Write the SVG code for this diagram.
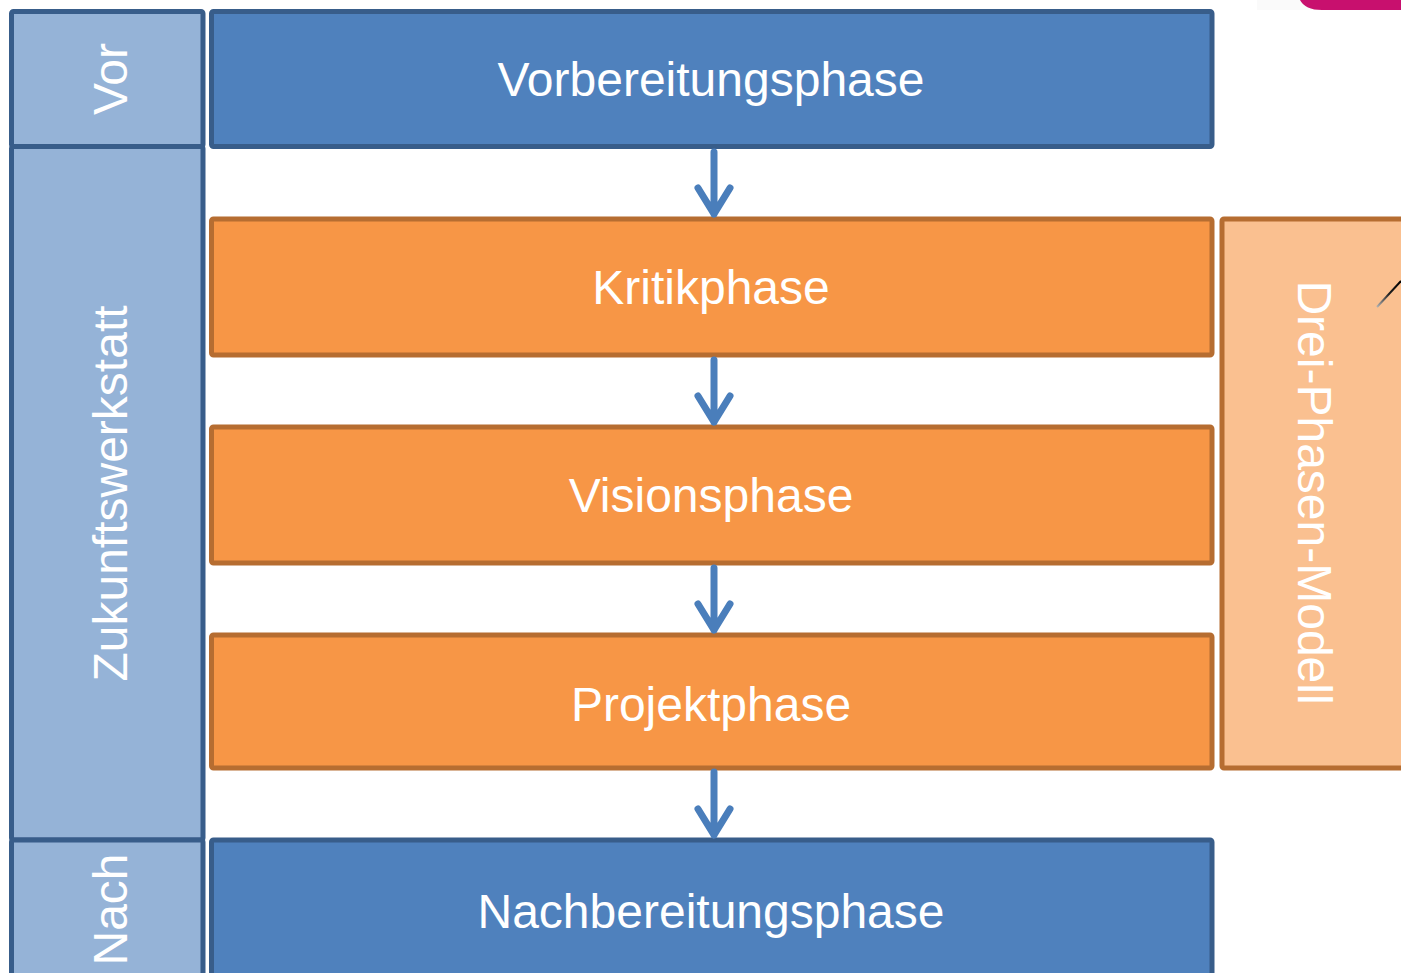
<svg xmlns="http://www.w3.org/2000/svg" width="1401" height="973" viewBox="0 0 1401 973">
<style>
.side{fill:#95B3D7;stroke:#385D8A;stroke-width:5}
.blue{fill:#4F81BD;stroke:#385D8A;stroke-width:5}
.orange{fill:#F79646;stroke:#B66D31;stroke-width:5}
.lorange{fill:#FAC090;stroke:#B66D31;stroke-width:5}
text{font-family:"Liberation Sans",Arial,sans-serif;font-size:48px;fill:#FFFFFF;text-anchor:middle}
.arr{fill:none;stroke:#4A7EBB;stroke-width:7;stroke-linecap:round;stroke-linejoin:round}
</style>
<defs>
<linearGradient id="lg" x1="0" y1="1" x2="1" y2="0">
<stop offset="0" stop-color="#B0B0B0"/>
<stop offset="0.5" stop-color="#202020"/>
<stop offset="1" stop-color="#000000"/>
</linearGradient>
</defs>
<rect x="0" y="0" width="1401" height="973" fill="#FFFFFF"/>
<rect x="1257" y="0" width="144" height="10" fill="#FAFAFA"/>
<path d="M1300,0 H1401 V10 H1322 Q1305,10 1300,0 Z" fill="#C8106E"/>

<g id="vor">
<rect class="side" x="11.5" y="11.5" width="191.5" height="135" rx="2"/>
<text transform="translate(127,79) rotate(-90)">Vor</text>
</g>
<g id="zukunftswerkstatt">
<rect class="side" x="11.5" y="146.5" width="191.5" height="693.5" rx="2"/>
<text transform="translate(127,493.5) rotate(-90)">Zukunftswerkstatt</text>
</g>
<g id="nach">
<rect class="side" x="11.5" y="840" width="191.5" height="145" rx="2"/>
<text transform="translate(127,909.5) rotate(-90)">Nach</text>
</g>

<g id="vorbereitungsphase">
<rect class="blue" x="211.5" y="11.5" width="1000.5" height="135" rx="2"/>
<text x="711" y="96">Vorbereitungsphase</text>
</g>
<g id="kritikphase">
<rect class="orange" x="211.5" y="219" width="1000.5" height="136" rx="2"/>
<text x="711" y="304">Kritikphase</text>
</g>
<g id="visionsphase">
<rect class="orange" x="211.5" y="427" width="1000.5" height="136" rx="2"/>
<text x="711" y="512">Visionsphase</text>
</g>
<g id="projektphase">
<rect class="orange" x="211.5" y="635" width="1000.5" height="133" rx="2"/>
<text x="711" y="721">Projektphase</text>
</g>
<g id="nachbereitungsphase">
<rect class="blue" x="211.5" y="840" width="1000.5" height="145" rx="2"/>
<text x="711" y="928">Nachbereitungsphase</text>
</g>
<g id="drei-phasen-modell">
<rect class="lorange" x="1222" y="219" width="200" height="549" rx="2"/>
<text transform="translate(1298,492.5) rotate(90)">Drei-Phasen-Modell</text>
</g>

<line x1="1377" y1="307" x2="1401" y2="281" stroke="url(#lg)" stroke-width="2"/>

<g id="connectors">
<path class="arr" d="M714,152 V214 M698,188 L714,214 L730,188"/>
<path class="arr" d="M714,360 V422 M698,396 L714,422 L730,396"/>
<path class="arr" d="M714,568 V630 M698,604 L714,630 L730,604"/>
<path class="arr" d="M714,772 V835 M698,809 L714,835 L730,809"/>
</g>
</svg>
